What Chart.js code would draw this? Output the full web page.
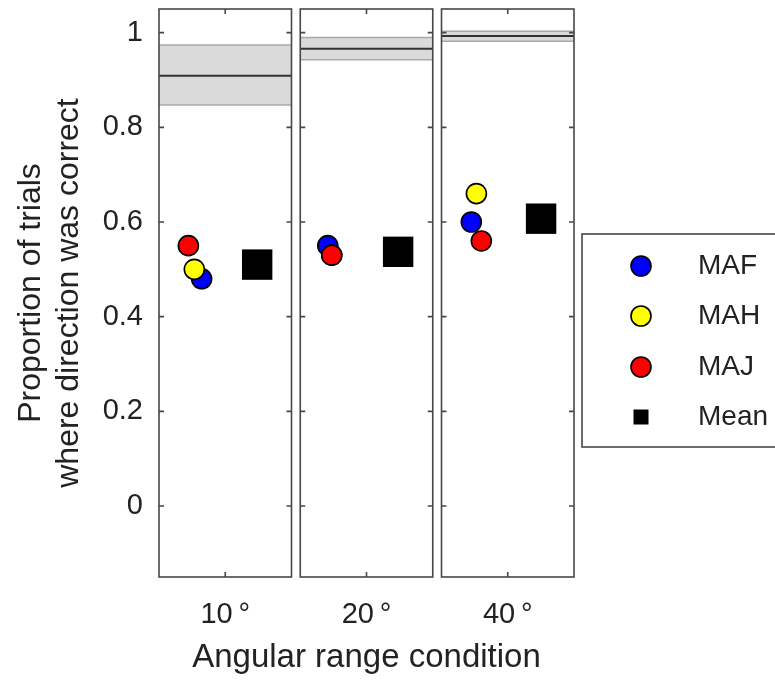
<!DOCTYPE html>
<html lang="en">
<head>
  <meta charset="UTF-8" />
  <title>Proportion of trials where direction was correct</title>
  <script src="https://cdn.jsdelivr.net/npm/chart.js"></script>
  <style>
    html, body { margin: 0; padding: 0; background: #fff; }
    #wrap { width: 775px; height: 681px; }
  </style>
</head>
<body>
  <div id="wrap"><canvas id="chart" width="775" height="681"></canvas></div>

  <script>
    const conditions = ["10\u2009°", "20\u2009°", "40\u2009°"];
    const seriesNames = ["MAF", "MAH", "MAJ", "Mean"];
    const seriesColors = ["#0000ff", "#ffff00", "#ff0000", "#000000"];

    const mafValues = [0.48, 0.55, 0.60];
    const mahValues = [0.50, 0.53, 0.66];
    const majValues = [0.55, 0.53, 0.56];
    const meanValues = [0.51, 0.537, 0.607];

    // horizontal jitter of each marker inside its panel
    const mafJitter = [-0.167, -0.274, -0.258];
    const mahJitter = [-0.219, -0.246, -0.222];
    const majJitter = [-0.261, -0.246, -0.187];
    const meanJitter = [0.226, 0.224, 0.236];

    // shaded band per condition: upper edge, centre line, lower edge
    const bandUpper = [0.974, 0.990, 1.003];
    const bandMid = [0.909, 0.966, 0.993];
    const bandLower = [0.847, 0.943, 0.982];

    const yTicks = [0, 0.2, 0.4, 0.6, 0.8, 1];

    const HALF = 0.469;     // half width of a panel in x units
    const PLOT_TOP = 9;     // top edge of the panels
    const FONT = "'Liberation Sans', Arial, Helvetica, sans-serif";
    const INK = "#222";

    const toPoints = (vals, jit) => vals.map((v, i) => ({ x: i + jit[i], y: v }));
    const across = (v, i) => [{ x: i - HALF, y: v }, { x: i + HALF, y: v }];

    const datasets = [];
    const markers = [
      [mafValues, mafJitter, 3],
      [mahValues, mahJitter, 2],
      [majValues, majJitter, 1],
    ];
    markers.forEach(([vals, jit, order], k) => {
      datasets.push({
        label: seriesNames[k],
        data: toPoints(vals, jit),
        pointStyle: "circle",
        pointRadius: 10,
        pointHoverRadius: 10,
        backgroundColor: seriesColors[k],
        borderColor: "#000",
        borderWidth: 1.6,
        order: order
      });
    });
    datasets.push({
      label: seriesNames[3],
      data: toPoints(meanValues, meanJitter),
      pointStyle: "rect",
      pointRadius: 21.5,
      pointHoverRadius: 21.5,
      backgroundColor: "#000",
      borderColor: "#000",
      borderWidth: 0,
      order: 0
    });

    conditions.forEach((c, i) => {
      datasets.push({
        label: "band-upper",
        data: across(bandUpper[i], i),
        showLine: true, pointRadius: 0,
        borderColor: "#a9a9a9", borderWidth: 1.5,
        order: 20
      });
      datasets.push({
        label: "band-lower",
        data: across(bandLower[i], i),
        showLine: true, pointRadius: 0,
        borderColor: "#a9a9a9", borderWidth: 1.5,
        backgroundColor: "#dadada",
        fill: "-1",
        order: 21
      });
      datasets.push({
        label: "band-mid",
        data: across(bandMid[i], i),
        showLine: true, pointRadius: 0,
        borderColor: "#333", borderWidth: 2,
        order: 19
      });
    });

    // pull the top of the plot area up to PLOT_TOP (the y scale reserves
    // room for half a label above the top tick otherwise)
    const pinTop = {
      id: "pinTop",
      afterLayout(chart) {
        const ca = chart.chartArea;
        const y = chart.scales.y;
        ca.top = PLOT_TOP;
        ca.height = ca.bottom - ca.top;
        y.top = PLOT_TOP;
        y.height = y.bottom - y.top;
        y.configure();
      }
    };

    // boxed panels with inward ticks on every side
    const panelFrames = {
      id: "panelFrames",
      afterDatasetsDraw(chart) {
        const { ctx, chartArea, scales: { x, y } } = chart;
        const t = chartArea.top, b = chartArea.bottom, len = 5;
        ctx.save();
        ctx.strokeStyle = "#474747";
        ctx.lineWidth = 1.6;
        conditions.forEach((c, i) => {
          const l = x.getPixelForValue(i - HALF);
          const r = x.getPixelForValue(i + HALF);
          const cx = x.getPixelForValue(i);
          ctx.strokeRect(l, t, r - l, b - t);
          ctx.beginPath();
          y.ticks.forEach(tk => {
            const py = y.getPixelForValue(tk.value);
            ctx.moveTo(l, py); ctx.lineTo(l + len, py);
            ctx.moveTo(r, py); ctx.lineTo(r - len, py);
          });
          ctx.moveTo(cx, b); ctx.lineTo(cx, b - len);
          ctx.moveTo(cx, t); ctx.lineTo(cx, t + len);
          ctx.stroke();
        });
        ctx.restore();
      }
    };

    // boxed legend to the right of the panels
    const boxLegend = {
      id: "boxLegend",
      afterDraw(chart) {
        const ctx = chart.ctx;
        const markX = 641, textX = 698, rowY = [266, 316, 367, 417];
        ctx.save();
        ctx.strokeStyle = "#474747";
        ctx.lineWidth = 1.6;
        ctx.strokeRect(582, 234, 240, 213);
        ctx.font = "28px " + FONT;
        ctx.textBaseline = "middle";
        ctx.textAlign = "left";
        seriesNames.forEach((name, k) => {
          const yy = rowY[k];
          ctx.fillStyle = seriesColors[k];
          if (k < 3) {
            ctx.beginPath();
            ctx.arc(markX, yy, 10, 0, Math.PI * 2);
            ctx.fill();
            ctx.strokeStyle = "#000";
            ctx.lineWidth = 1.6;
            ctx.stroke();
          } else {
            ctx.fillRect(markX - 7.5, yy - 7.5, 15, 15);
          }
          ctx.fillStyle = INK;
          ctx.fillText(name, textX, yy);
        });
        ctx.restore();
      }
    };

    const noEdgePadding = s => {
      s.paddingTop = 0; s.paddingBottom = 0;
      s.paddingLeft = 0; s.paddingRight = 0;
    };

    new Chart(document.getElementById("chart"), {
      type: "scatter",
      data: { datasets: datasets },
      plugins: [pinTop, panelFrames, boxLegend],
      options: {
        responsive: false,
        animation: false,
        events: [],
        layout: { padding: { top: PLOT_TOP, right: 201, bottom: 0, left: 0 } },
        plugins: {
          legend: { display: false },
          tooltip: { enabled: false },
          filler: { propagate: false }
        },
        scales: {
          x: {
            type: "linear",
            min: -HALF,
            max: 2 + HALF,
            afterFit: s => { s.height = 104; noEdgePadding(s); },
            afterBuildTicks: s => { s.ticks = conditions.map((c, i) => ({ value: i })); },
            grid: { display: false, drawTicks: false },
            border: { display: false },
            ticks: {
              padding: 21,
              color: INK,
              font: { family: FONT, size: 29 },
              callback: v => conditions[Math.round(v)]
            },
            title: {
              display: true,
              text: "Angular range condition",
              color: INK,
              font: { family: FONT, size: 33 },
              padding: { top: 0, bottom: 3 }
            }
          },
          y: {
            min: -0.15,
            max: 1.05,
            afterFit: s => { s.width = 159; noEdgePadding(s); },
            afterBuildTicks: s => { s.ticks = yTicks.map(v => ({ value: v })); },
            grid: { display: false, drawTicks: false },
            border: { display: false },
            ticks: {
              padding: 16,
              color: INK,
              font: { family: FONT, size: 29 },
              callback: v => String(Number(v.toFixed(1)))
            },
            title: {
              display: true,
              text: ["Proportion of trials", "where direction was correct"],
              color: INK,
              font: { family: FONT, size: 32 },
              padding: { top: 12, bottom: 0 }
            }
          }
        }
      }
    });
  </script>
</body>
</html>
